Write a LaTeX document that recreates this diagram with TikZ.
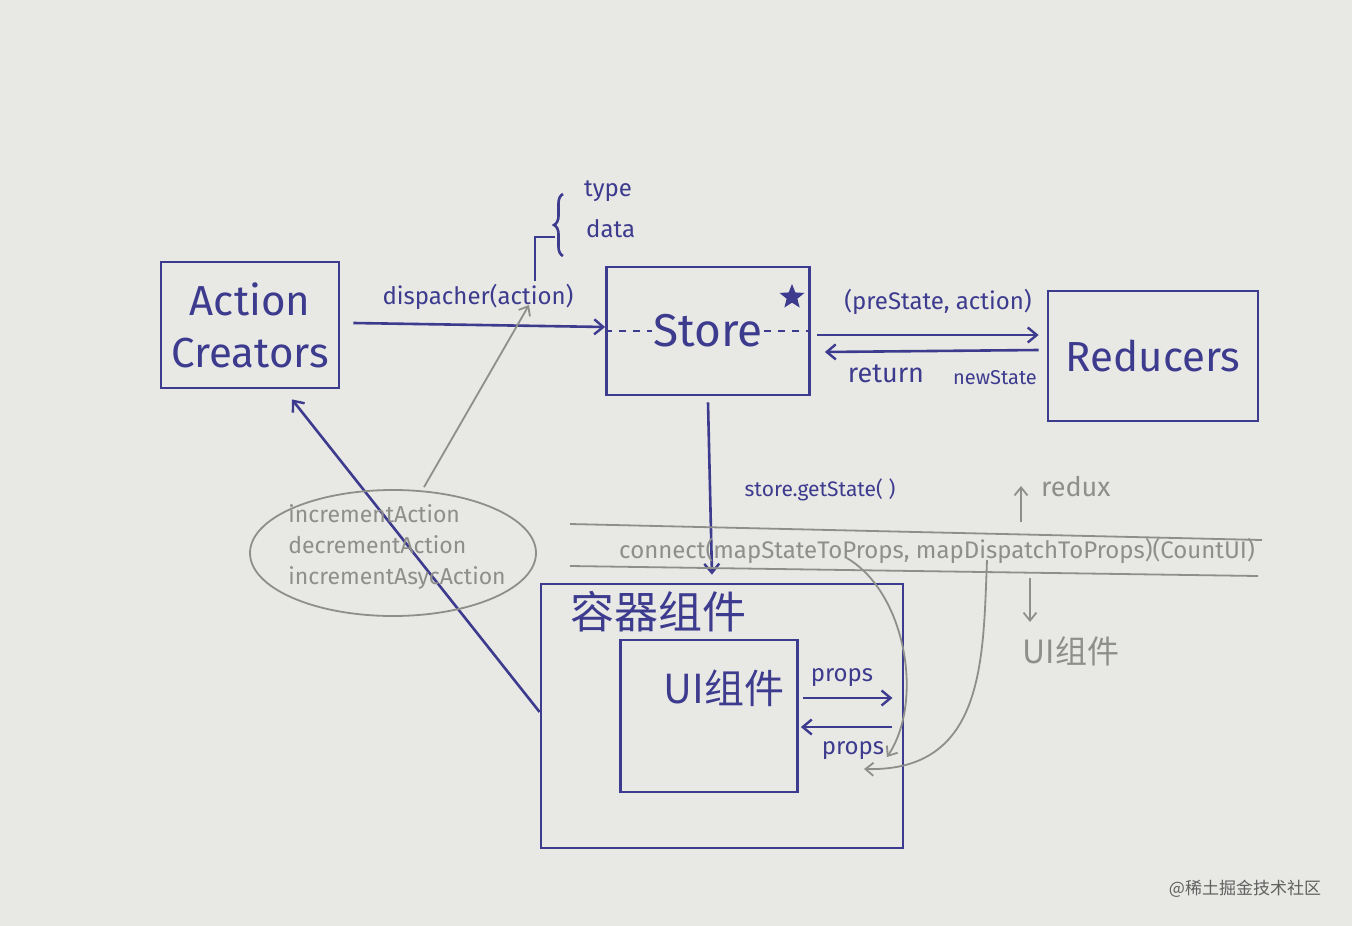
\documentclass[tikz,border=0pt]{standalone}
\usepackage{fontspec}
\setmainfont{Fira Sans}
\newfontfamily\cjk{Noto Sans CJK SC}
\usetikzlibrary{arrows.meta,decorations.pathreplacing,shapes.geometric,calc}
\definecolor{paper}{HTML}{E8E8E5}
\definecolor{ink}{HTML}{3D3B8E}
\definecolor{pencil}{HTML}{8E8E8B}
\begin{document}
\begin{tikzpicture}[x=1pt,y=-1pt,
  inkline/.style={draw=ink,line width=2.6pt},
  pencilline/.style={draw=pencil,line width=1.8pt},
  box/.style={draw=ink,line width=2.8pt,rectangle,inner sep=0pt,text=ink,align=center},
  inktip/.style={-{Straight Barb[length=9pt,width=15pt,line width=2.4pt]}},
  penciltip/.style={-{Straight Barb[length=8pt,width=13pt,line width=1.8pt]}},
  big/.style={font=\fontsize{42}{52}\selectfont},
  mid/.style={font=\fontsize{24}{30}\selectfont},
  small/.style={font=\fontsize{21}{26}\selectfont},
  inktext/.style={text=ink,inner sep=1pt},
  penciltext/.style={text=pencil,inner sep=1pt}
]
\fill[paper] (0,0) rectangle (1352,926);
\useasboundingbox (0,0) rectangle (1352,926);

% main boxes
\node[box,big,minimum width=178pt,minimum height=126pt] (ac) at (250,325) {Action\\Creators};
\node[box,minimum width=203pt,minimum height=128pt] (st) at (708,331) {};
\node[inktext,font=\fontsize{46}{50}\selectfont] (stt) at (708,331) {Store};
\node[star,star points=5,star point ratio=2.3,fill=ink,inner sep=0pt,minimum size=26pt] (star) at (792,297) {};
\node[box,big,minimum width=210pt,minimum height=130pt] (rd) at (1153,356) {Reducers};

\draw[ink,line width=1.6pt,dash pattern=on 7pt off 7pt] (st.west) -- (stt.west);
\draw[ink,line width=1.6pt,dash pattern=on 7pt off 7pt] (stt.east) -- (st.east);

% dispatch arrow
\draw[inkline,inktip] ($(ac.east)+(13,-2)$) -- ($(st.west)+(0,-4)$);
\node[inktext,mid] (disp) at (478,297) {dispacher(action)};
\coordinate (bj) at (535,237);
\draw[inkline] ($(disp.north)+(57,-2)$) -- (bj) -- ($(bj)+(20,0)$);
\draw[inkline,decorate,decoration={brace,amplitude=9pt}] (563,256) -- (563,194);
\node[inktext,mid,anchor=west] (ty) at (583,191) {type};
\node[inktext,mid,anchor=west] (da) at (585,229) {data};

% store <-> reducers
\draw[inkline,inktip] ($(st.east)+(6,4)$) -- ($(rd.west)+(-8,-21)$);
\draw[inkline,inktip] ($(rd.west)+(-8,-6)$) -- ($(st.east)+(14,21)$);
\node[inktext,mid] (ps) at (938,302) {(preState, action)};
\node[inktext,font=\fontsize{27}{30}\selectfont] (ret) at (886,374) {return};
\node[inktext,font=\fontsize{20}{24}\selectfont] (ns) at (995,378) {newState};

% container and ui
\node[box,minimum width=362pt,minimum height=264pt] (ct) at (722,716) {};
\node[inktext,font=\cjk\fontsize{44}{48}\selectfont] (ctl) at (658,612) {容器组件};
\node[box,minimum width=177pt,minimum height=152pt] (ui) at (709,716) {};
\node[inktext,font=\cjk\fontsize{40}{44}\selectfont] (uil) at (724,688) {UI组件};

\draw[inkline,inktip] ($(st.south)+(0,6)$) -- ($(ct.north)+(-10,-8)$);
\node[inktext,small] (gs) at (820,490) {store.getState( )};

\draw[inkline,inktip] ($(ui.east)+(4,-18)$) -- ($(ct.east)+(-12,-18)$);
\node[inktext,mid] (p1) at (842,678) {props};
\draw[inkline,inktip] ($(ct.east)+(-12,11)$) -- ($(ui.east)+(2,11)$);
\node[inktext,mid] (p2) at (853,751) {props};

\draw[inkline,inktip] ($(ct.west)+(0,-4)$) -- ($(ac.south)+(42,10)$);

% connect band
\draw[pencilline] (570,524) -- (1262,540);
\draw[pencilline] (570,566) -- (1258,576);
\node[penciltext,font=\fontsize{24}{28}\selectfont] (cn) at (937,551) {connect(mapStateToProps, mapDispatchToProps)(CountUI)};
\coordinate (ms) at (845,557);
\coordinate (md) at (987,560);
\draw[pencilline,penciltip] (ms) .. controls (905,590) and (925,700) .. (887,757);
\draw[pencilline,penciltip] (md) .. controls (983,660) and (985,772) .. (864,769);

\draw[pencilline,penciltip] (1021,522) -- (1021,486);
\node[penciltext,font=\fontsize{27}{30}\selectfont,anchor=west] (rx) at (1040,487) {redux};
\draw[pencilline,penciltip] (1030,578) -- (1030,622);
\node[penciltext,font=\cjk\fontsize{32}{36}\selectfont] (uic) at (1071,651) {UI组件};

% action list ellipse
\node[ellipse,draw=pencil,line width=1.8pt,minimum width=286pt,minimum height=126pt,inner sep=0pt] (el) at (393,553) {};
\node[penciltext,font=\fontsize{23}{31}\selectfont,align=left] (al) at (397,547) {incrementAction\\decrementAction\\incrementAsycAction};
\coordinate (dtip) at (529,305);
\draw[pencilline,penciltip] ($(el.north)+(31,-2)$) -- (dtip);

% site mark
\node[text=gray!75!black,font=\cjk\fontsize{17}{17}\selectfont] (site) at (1245,889) {@稀土掘金技术社区};
\end{tikzpicture}
\end{document}
